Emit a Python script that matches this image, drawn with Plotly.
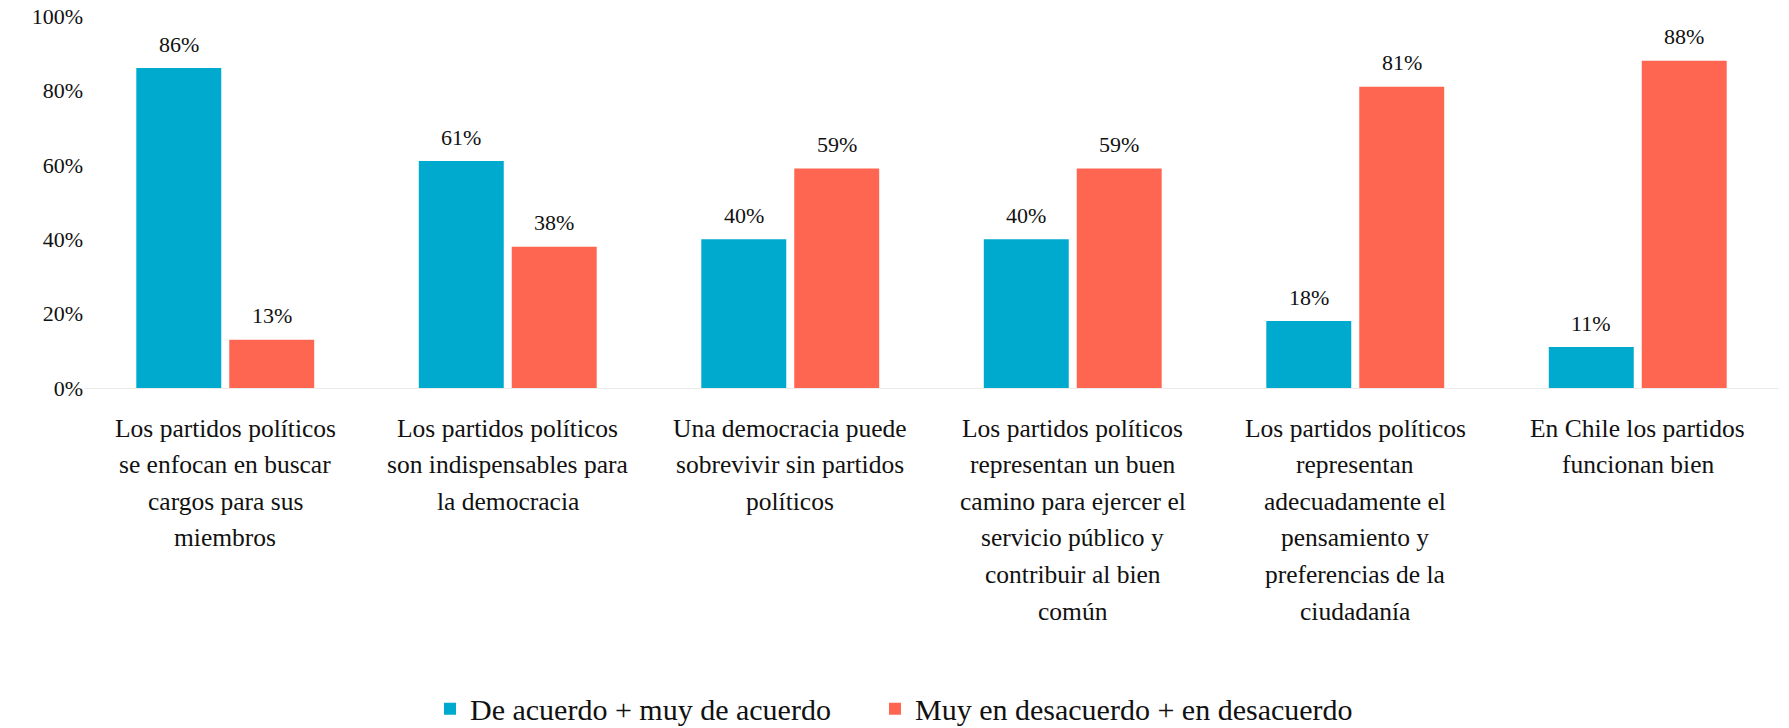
import plotly.graph_objects as go

categories = [
    "Los partidos políticos<br>se enfocan en buscar<br>cargos para sus<br>miembros",
    "Los partidos políticos<br>son indispensables para<br>la democracia",
    "Una democracia puede<br>sobrevivir sin partidos<br>políticos",
    "Los partidos políticos<br>representan un buen<br>camino para ejercer el<br>servicio público y<br>contribuir al bien<br>común",
    "Los partidos políticos<br>representan<br>adecuadamente el<br>pensamiento y<br>preferencias de la<br>ciudadanía",
    "En Chile los partidos<br>funcionan bien",
]
series_names = ["De acuerdo + muy de acuerdo", "Muy en desacuerdo + en desacuerdo"]
acuerdo = [0.86, 0.61, 0.40, 0.40, 0.18, 0.11]
desacuerdo = [0.13, 0.38, 0.59, 0.59, 0.81, 0.88]
colors = ["#00AACE", "#FF6652"]
yticks = [0, 0.2, 0.4, 0.6, 0.8, 1.0]

FONT = "Liberation Serif, Times New Roman, serif"

fig = go.Figure()
for name, vals, col, lg in zip(series_names, [acuerdo, desacuerdo], colors, ["legend", "legend2"]):
    fig.add_trace(go.Bar(x=categories, y=vals, name=name, marker_color=col,
                         marker_line_width=0, hoverinfo="skip", legend=lg,
                         showlegend=True))

annotations = []
# data labels
for vals, shift in [(acuerdo, -46.5), (desacuerdo, 46.5)]:
    for c, v in zip(categories, vals):
        annotations.append(dict(x=c, y=v, xref="x", yref="y", text=f"{round(v*100)}%",
                                showarrow=False, xshift=shift, yshift=24,
                                font=dict(family=FONT, size=22, color="#111111")))
# category labels, one line per annotation for wider leading
for c in categories:
    for i, line in enumerate(c.split("<br>")):
        annotations.append(dict(x=c, y=0, xref="x", yref="paper", text=line,
                                showarrow=False, yanchor="middle", yshift=-(40 + i * 36.6),
                                font=dict(family=FONT, size=25.5, color="#111111")))

legend_style = dict(orientation="h", xref="container", yref="paper",
                    xanchor="left", y=-0.862, yanchor="middle", visible=True,
                    font=dict(family=FONT, size=30, color="#111111"))

# the page body adds an 8px offset, so the figure is sized to fit inside the window
fig.update_layout(
    width=1781, height=720, showlegend=True,
    margin=dict(l=76, r=10, t=8, b=340, autoexpand=False),
    paper_bgcolor="white", plot_bgcolor="white",
    barmode="group", bargap=0.342, bargroupgap=0.086,
    font=dict(family=FONT, color="#111111"),
    xaxis=dict(showticklabels=False, showgrid=False, zeroline=False,
               showline=True, linecolor="#EBEBEB", linewidth=1, ticks=""),
    yaxis=dict(range=[0, 1], tickvals=yticks, tickformat=".0%", showgrid=False,
               zeroline=False, showline=False, ticks="", ticklabeloverflow="allow",
               tickfont=dict(family=FONT, size=22, color="#111111")),
    legend=dict(x=422 / 1781, **legend_style),
    legend2=dict(x=867 / 1781, **legend_style),
    annotations=annotations,
)

fig.write_html("out.html")
